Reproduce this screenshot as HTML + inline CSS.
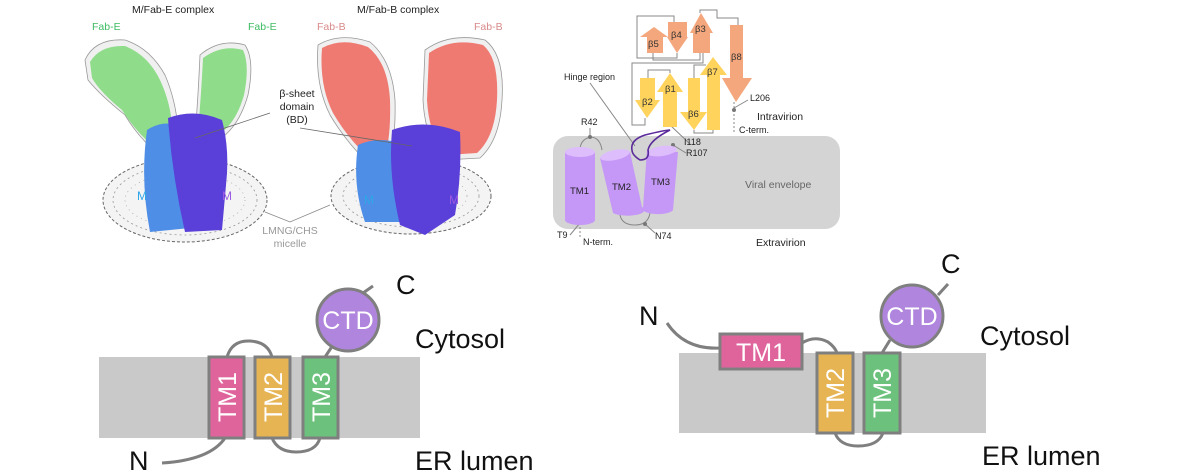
<!DOCTYPE html>
<html><head><meta charset="utf-8"><style>
html,body{margin:0;padding:0;background:#fff;}
svg{display:block;font-family:"Liberation Sans",sans-serif;}
</style></head><body>
<svg width="1200" height="475" viewBox="0 0 1200 475" xmlns="http://www.w3.org/2000/svg">
<!-- ===== Top-left cryo-EM ===== -->
<g font-size="10.5" fill="#222">
<text x="132" y="13">M/Fab-E complex</text>
<text x="357" y="13">M/Fab-B complex</text>
</g>
<g font-size="10.5">
<text x="92" y="30" fill="#3dbb62">Fab-E</text>
<text x="248" y="30" fill="#3dbb62">Fab-E</text>
<text x="317" y="30" fill="#d98a8a">Fab-B</text>
<text x="474" y="30" fill="#d98a8a">Fab-B</text>
</g>
<!-- micelles -->
<ellipse cx="185" cy="200" rx="82" ry="42" fill="#f4f4f4" stroke="#666" stroke-width="1" stroke-dasharray="3 2"/>
<ellipse cx="185" cy="200" rx="72" ry="35" fill="none" stroke="#999" stroke-width="0.8" stroke-dasharray="2 3"/>
<ellipse cx="185" cy="200" rx="60" ry="27" fill="none" stroke="#aaa" stroke-width="0.8" stroke-dasharray="1 4"/>
<ellipse cx="411" cy="196" rx="80" ry="38" fill="#f4f4f4" stroke="#666" stroke-width="1" stroke-dasharray="3 2"/>
<ellipse cx="411" cy="196" rx="68" ry="31" fill="none" stroke="#999" stroke-width="0.8" stroke-dasharray="2 3"/>
<ellipse cx="411" cy="196" rx="56" ry="24" fill="none" stroke="#aaa" stroke-width="0.8" stroke-dasharray="1 4"/>
<!-- left green arms -->
<path d="M85,60 Q95,38 125,40 Q150,48 165,75 Q180,110 178,150 L160,155 Q140,140 125,115 Q100,95 88,80 Z" fill="#f0f0f0" stroke="#999" stroke-width="0.8"/>
<path d="M90,62 Q100,45 125,46 Q148,55 160,80 Q175,112 172,148 L158,150 Q138,135 122,110 Q100,92 92,78 Z" fill="#8fdc8a"/>
<path d="M200,55 Q220,38 245,45 Q255,60 248,95 Q238,130 215,142 L195,135 Q198,100 200,55 Z" fill="#f0f0f0" stroke="#999" stroke-width="0.8"/>
<path d="M203,58 Q222,44 243,50 Q250,65 244,95 Q235,127 214,137 L198,130 Q201,98 203,58 Z" fill="#8fdc8a"/>
<!-- left M -->
<path d="M147,130 Q165,118 185,128 L190,228 L150,232 Q140,180 147,130 Z" fill="#4f8ee6"/>
<path d="M168,118 Q195,108 222,120 Q230,150 226,185 L222,230 L185,232 Q172,175 168,118 Z" fill="#5a3fd8"/>
<!-- right red arms -->
<path d="M318,45 Q340,32 370,42 Q392,60 395,100 Q396,135 390,155 L365,160 Q345,140 330,115 Q315,85 318,45 Z" fill="#f0f0f0" stroke="#999" stroke-width="0.8"/>
<path d="M322,48 Q342,37 368,47 Q388,63 390,100 Q391,133 386,152 L366,155 Q347,137 333,113 Q319,85 322,48 Z" fill="#ef7a72"/>
<path d="M425,50 Q450,32 485,40 Q505,55 502,100 Q500,140 480,158 L445,160 Q425,140 423,100 Z" fill="#f0f0f0" stroke="#999" stroke-width="0.8"/>
<path d="M429,53 Q452,37 483,45 Q499,58 497,100 Q495,137 477,153 L447,155 Q429,137 427,100 Z" fill="#ef7a72"/>
<!-- right M -->
<path d="M358,145 Q380,135 405,145 L410,222 L365,222 Q352,185 358,145 Z" fill="#4f8ee6"/>
<path d="M392,130 Q425,118 460,132 Q462,175 455,215 L425,235 L400,225 Q388,175 392,130 Z" fill="#5a3fd8"/>
<g font-size="12">
<text x="137" y="200" fill="#2ea6e8">M</text>
<text x="222" y="200" fill="#9b5be0">M</text>
<text x="364" y="204" fill="#2ea6e8">M</text>
<text x="449" y="204" fill="#9b5be0">M</text>
</g>
<g font-size="10.5" fill="#222" text-anchor="middle">
<text x="297" y="97">β-sheet</text>
<text x="297" y="110">domain</text>
<text x="297" y="123">(BD)</text>
</g>
<line x1="270" y1="113" x2="195" y2="138" stroke="#666" stroke-width="0.8"/>
<line x1="300" y1="128" x2="412" y2="146" stroke="#666" stroke-width="0.8"/>
<polyline points="265,212 290,222 330,205" fill="none" stroke="#888" stroke-width="0.8"/>
<g font-size="10.5" fill="#999" text-anchor="middle">
<text x="290" y="234">LMNG/CHS</text>
<text x="290" y="247">micelle</text>
</g>
<!-- ===== Top-right topology ===== -->
<rect x="553" y="136" width="287" height="93" rx="15" fill="#d4d4d4"/>
<g fill="none" stroke="#888" stroke-width="1">
<polyline points="653,53 653,60 700,60 700,53"/>
<polyline points="637,27 637,16 674,16 674,22"/>
<polyline points="677,53 677,58 637,58 637,27"/>
<polyline points="700,13 700,10 717,10 717,18 738,18 738,25"/>
<polyline points="703,53 703,63 632,63 632,125 645,125 645,118"/>
<polyline points="648,78 648,70 670,70 670,73"/>
<polyline points="694,78 694,65 706,65"/>
<polyline points="694,130 694,133 713,133 713,130"/>
<line x1="734" y1="102" x2="734" y2="133" stroke-dasharray="2 2"/>
<line x1="734" y1="108" x2="748" y2="100"/>
<line x1="670" y1="125" x2="690" y2="144"/>
<line x1="673" y1="145" x2="686" y2="153"/>
<line x1="590" y1="83" x2="635" y2="146"/>
<path d="M580,150 Q580,140 590,137 Q600,137 602,150"/>
<line x1="590" y1="137" x2="590" y2="128"/>
<path d="M620,215 Q622,225 635,225 Q648,225 650,213"/>
<line x1="645" y1="224" x2="655" y2="233"/>
<line x1="580" y1="223" x2="570" y2="235"/>
<line x1="580" y1="223" x2="580" y2="238" stroke-dasharray="2 2"/>
</g>
<g fill="#777">
<circle cx="590" cy="137" r="2"/><circle cx="670" cy="125" r="2"/><circle cx="673" cy="145" r="2"/>
<circle cx="734" cy="110" r="2"/><circle cx="645" cy="224" r="2"/><circle cx="580" cy="223" r="2"/>
</g>
<g fill="#c597f7">
<path d="M565,152 L565,220 A15,5 0 0 0 595,220 L595,152 Z"/>
<path d="M600,158 L613,213 A15,5 0 0 0 642,207 L630,152 Z"/>
<path d="M647,150 L643,208 A15,5 0 0 0 673,210 L678,152 Z"/>
</g>
<g fill="#ddbdfc">
<ellipse cx="580" cy="152" rx="15" ry="5"/>
<ellipse cx="615" cy="155" rx="15" ry="5" transform="rotate(-12 615 155)"/>
<ellipse cx="662" cy="151" rx="15" ry="5" transform="rotate(-8 662 151)"/>
</g>
<path d="M632,150 Q630,140 645,135 Q665,130 670,130 Q650,140 648,150 Q650,160 640,160 Q632,155 632,150" fill="none" stroke="#5a2a9a" stroke-width="1.6"/>
<g font-size="9.5" fill="#222">
<text x="570" y="194">TM1</text><text x="612" y="190">TM2</text><text x="651" y="185">TM3</text>
</g>
<g fill="#f4a77c">
<polygon points="647,53 663,53 663,37 668,37 654,27 640,37 647,37"/>
<polygon points="668,22 687,22 687,37 688,37 677,53 667,37 668,37"/>
<polygon points="693,53 710,53 710,33 713,33 701,13 690,33 693,33"/>
<polygon points="730,25 743,25 743,78 752,78 736,102 722,78 730,78"/>
</g>
<g fill="#ffd35c">
<polygon points="640,78 655,78 655,100 660,100 647,118 635,100 640,100"/>
<polygon points="663,127 677,127 677,92 683,92 670,73 657,92 663,92"/>
<polygon points="688,78 700,78 700,112 707,112 694,130 680,112 688,112"/>
<polygon points="707,130 720,130 720,75 727,75 713,57 700,75 707,75"/>
</g>
<g font-size="9.5" fill="#333">
<text x="648" y="47">β5</text><text x="671" y="38">β4</text><text x="695" y="32">β3</text><text x="731" y="60">β8</text>
<text x="642" y="105">β2</text><text x="665" y="92">β1</text><text x="688" y="117">β6</text><text x="707" y="75">β7</text>
</g>
<g font-size="9" fill="#222">
<text x="564" y="80">Hinge region</text>
<text x="581" y="125">R42</text>
<text x="684" y="145">I118</text>
<text x="686" y="156">R107</text>
<text x="750" y="101">L206</text>
<text x="739" y="133">C-term.</text>
<text x="557" y="238">T9</text>
<text x="583" y="245">N-term.</text>
<text x="655" y="239">N74</text>
</g>
<g font-size="10.5">
<text x="757" y="120" fill="#222">Intravirion</text>
<text x="745" y="188" fill="#666">Viral envelope</text>
<text x="756" y="246" fill="#222">Extravirion</text>
</g>
<!-- ===== Bottom-left ===== -->
<rect x="99" y="357" width="321" height="81" fill="#c8c9c8"/>
<g fill="none" stroke="#7f7f7f" stroke-width="3">
<path d="M227,357 Q232,340 250,341 Q268,342 272,357"/>
<path d="M272,438 Q278,452 296,452 Q316,452 320,438"/>
<path d="M162,463 Q210,460 225,438"/>
<line x1="325" y1="357" x2="333" y2="345"/>
<line x1="363" y1="293" x2="373" y2="286"/>
</g>
<circle cx="348" cy="320" r="31" fill="#b085dd" stroke="#7f7f7f" stroke-width="3"/>
<g stroke="#7f7f7f" stroke-width="3">
<rect x="209" y="357" width="35" height="81" fill="#e0649c"/>
<rect x="255" y="357" width="35" height="81" fill="#e7b454"/>
<rect x="303" y="357" width="35" height="81" fill="#6cc17c"/>
</g>
<g fill="#fff" font-size="25" text-anchor="middle">
<text transform="translate(236 397) rotate(-90)">TM1</text>
<text transform="translate(282 397) rotate(-90)">TM2</text>
<text transform="translate(330 397) rotate(-90)">TM3</text>
<text x="348" y="329">CTD</text>
</g>
<g font-size="27" fill="#111">
<text x="396" y="294">C</text>
<text x="415" y="348">Cytosol</text>
<text x="415" y="470">ER lumen</text>
<text x="129" y="470">N</text>
</g>
<!-- ===== Bottom-right ===== -->
<rect x="679" y="353" width="307" height="80" fill="#c8c9c8"/>
<g fill="none" stroke="#7f7f7f" stroke-width="3"> 
<path d="M667,323 Q685,350 720,348"/>
<path d="M802,343 Q815,335 828,342 Q835,347 837,353"/>
<path d="M835,433 Q840,446 858,446 Q878,446 883,433"/>
<line x1="882" y1="353" x2="890" y2="340"/>
<line x1="938" y1="295" x2="948" y2="284"/>
</g>
<circle cx="912" cy="316" r="31" fill="#b085dd" stroke="#7f7f7f" stroke-width="3"/>
<g stroke="#7f7f7f" stroke-width="3">
<rect x="720" y="334" width="82" height="35" fill="#e0649c"/>
<rect x="817" y="353" width="36" height="80" fill="#e7b454"/>
<rect x="864" y="353" width="36" height="80" fill="#6cc17c"/>
</g>
<g fill="#fff" font-size="25" text-anchor="middle">
<text x="761" y="361">TM1</text>
<text transform="translate(844 393) rotate(-90)">TM2</text>
<text transform="translate(891 393) rotate(-90)">TM3</text>
<text x="912" y="325">CTD</text>
</g>
<g font-size="27" fill="#111">
<text x="941" y="273">C</text>
<text x="980" y="345">Cytosol</text>
<text x="982" y="465">ER lumen</text>
<text x="639" y="325">N</text>
</g>
</svg>
</body></html>
